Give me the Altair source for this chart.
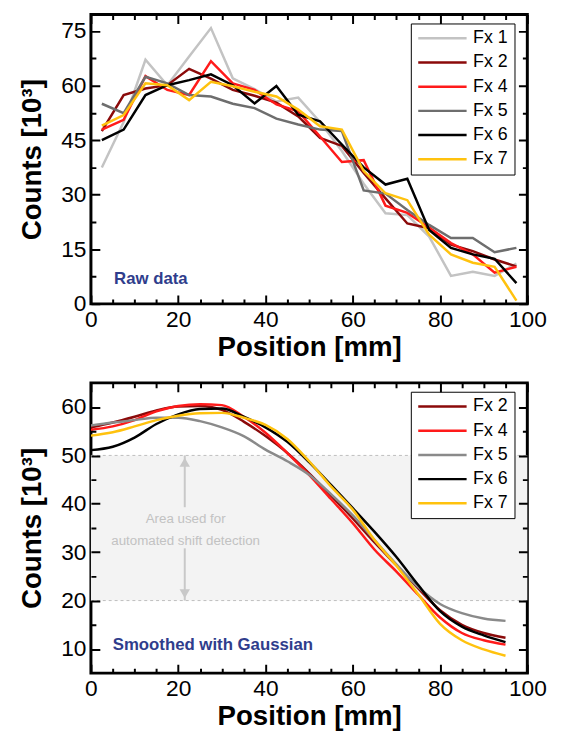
import altair as alt
import pandas as pd

# ---------------- data ----------------
raw_pos = [2.5, 7.5, 12.5, 17.5, 22.5, 27.5, 32.5, 37.5, 42.5, 47.5,
           52.5, 57.5, 62.5, 67.5, 72.5, 77.5, 82.5, 87.5, 92.5, 97.5]
raw_fx1 = [37.5, 50.0, 67.1, 60.1, 68.0, 75.8, 62.0, 59.0, 55.6, 56.7,
           50.0, 42.0, 33.0, 24.9, 24.4, 18.5, 7.7, 8.8, 7.7, 11.1]
raw_fx2 = [47.5, 57.4, 59.2, 60.1, 64.6, 61.9, 58.8, 57.2, 55.3, 51.5,
           45.6, 43.4, 36.0, 29.0, 22.1, 20.8, 16.3, 14.5, 12.2, 10.3]
raw_fx4 = [47.9, 50.6, 62.6, 58.8, 57.4, 66.7, 60.6, 58.8, 54.8, 52.9,
           46.0, 39.0, 39.5, 27.0, 25.0, 21.0, 16.7, 13.6, 8.6, 10.2]
raw_fx5 = [55.0, 52.4, 62.4, 60.6, 57.4, 57.0, 55.0, 53.8, 50.9, 49.3,
           47.9, 47.5, 31.2, 30.3, 25.8, 21.7, 18.1, 18.1, 14.2, 15.4]
raw_fx6 = [45.0, 47.9, 57.4, 60.1, 61.5, 63.1, 60.1, 55.1, 59.9, 52.0,
           50.2, 43.8, 37.5, 32.8, 34.4, 20.3, 15.4, 13.6, 12.4, 5.7]
raw_fx7 = [49.0, 51.9, 60.6, 60.1, 56.0, 61.0, 59.8, 58.3, 57.0, 53.4,
           48.8, 47.9, 36.5, 30.4, 28.5, 19.0, 13.6, 11.3, 10.2, 0.9]

smooth_pos = [0, 5, 10, 15, 20, 25, 30, 35, 40, 45,
              50, 55, 60, 65, 70, 75, 80, 85, 90, 95]
sm_fx2 = [55.8, 56.8, 58.0, 59.3, 60.1, 60.2, 59.4, 57.0, 54.0, 50.5,
          46.3, 41.7, 37.0, 32.0, 27.3, 22.5, 18.0, 15.0, 13.3, 12.3]
sm_fx4 = [55.3, 56.0, 57.3, 59.1, 60.2, 60.6, 60.4, 58.0, 54.7, 50.5,
          46.0, 41.0, 36.0, 30.5, 26.0, 21.2, 16.5, 13.3, 11.8, 10.9]
sm_fx5 = [56.2, 56.8, 57.3, 57.8, 57.8, 57.1, 55.8, 54.0, 51.2, 48.8,
          46.0, 42.0, 37.6, 32.5, 27.5, 22.8, 19.3, 17.4, 16.3, 15.8]
sm_fx6 = [51.1, 51.8, 53.7, 56.5, 58.5, 59.6, 59.7, 58.0, 55.8, 52.8,
          48.6, 43.9, 39.1, 34.2, 29.0, 23.2, 17.8, 14.6, 12.8, 11.4]
sm_fx7 = [54.1, 54.8, 56.0, 57.3, 58.2, 58.7, 58.8, 57.8, 56.3, 53.4,
          48.8, 43.6, 38.8, 32.5, 27.2, 21.3, 15.2, 11.8, 9.9, 8.6]

raw_names = ["Fx 1", "Fx 2", "Fx 4", "Fx 5", "Fx 6", "Fx 7"]
raw_colors = ["#c3c3c3", "#8b0a0a", "#ff1a1a", "#6e6e6e", "#000000", "#ffc20e"]
sm_names = ["Fx 2", "Fx 4", "Fx 5", "Fx 6", "Fx 7"]
sm_colors = ["#8b0a0a", "#ff1a1a", "#8a8a8a", "#000000", "#ffc20e"]

x_major = [0, 20, 40, 60, 80, 100]
x_minor = [5, 10, 15, 25, 30, 35, 45, 50, 55, 65, 70, 75, 85, 90, 95]
raw_y_major = [0, 15, 30, 45, 60, 75]
raw_y_minor = [7.5, 22.5, 37.5, 52.5, 67.5]
sm_y_major = [10, 20, 30, 40, 50, 60]
sm_y_minor = [15, 25, 35, 45, 55]

band_low, band_high = [20], [50]
arrow_x = [21.5]
arrow_top = [50, 39.3]       # upper shaft: from, to
arrow_bot = [30.8, 20]       # lower shaft: from, to
area_text = ["Area used for", "automated shift detection"]
area_text_y = [36.8, 32.3]
area_text_x = [21.7, 21.7]

X_DOM = [0, 100]
Y_DOM_TOP = [0, 79.5]
Y_DOM_BOT = [5, 65]

FONT = "Liberation Sans"
W = 442
H_TOP = 293
H_BOT = 294
MAJ, MIN = 9, 5   # inward tick lengths in pixels

raw_df = pd.DataFrame({
    "pos": raw_pos * 6,
    "val": raw_fx1 + raw_fx2 + raw_fx4 + raw_fx5 + raw_fx6 + raw_fx7,
    "series": sum([[n] * len(raw_pos) for n in raw_names], []),
})
sm_df = pd.DataFrame({
    "pos": smooth_pos * 5,
    "val": sm_fx2 + sm_fx4 + sm_fx5 + sm_fx6 + sm_fx7,
    "series": sum([[n] * len(smooth_pos) for n in sm_names], []),
})


def edge_dash(length, tick):
    # grid line drawn only as short segments at both frame edges -> inward ticks
    return [tick, length - 2 * tick, tick, 0]


def make_axes(y_major, y_minor, y_step, height):
    x_test = "datum.value % 20 === 0"
    y_test = "datum.value % " + str(y_step) + " === 0"
    ax_x = alt.Axis(
        orient="bottom", values=sorted(x_major + x_minor), ticks=False, tickSize=0,
        domain=False, grid=True, gridColor="black", gridWidth=2, gridOpacity=1,
        gridDash={"condition": {"test": x_test, "value": edge_dash(height, MAJ)},
                  "value": edge_dash(height, MIN)},
        labelExpr=x_test + " ? datum.label : ''",
        labelPadding=5, labelFlush=False, labelOverlap=False, zindex=1,
        title="Position [mm]", titlePadding=2)
    ax_y = alt.Axis(
        orient="left", values=sorted(y_major + y_minor), ticks=False, tickSize=0,
        domain=False, grid=True, gridColor="black", gridWidth=2, gridOpacity=1,
        gridDash={"condition": {"test": y_test, "value": edge_dash(W, MAJ)},
                  "value": edge_dash(W, MIN)},
        labelExpr=y_test + " ? datum.label : ''",
        labelPadding=5, labelOverlap=False, zindex=1,
        title="Counts [10³]", titlePadding=14)
    return ax_x, ax_y


def legend():
    return alt.Legend(
        title=None, orient="none", legendX=324, legendY=9,
        symbolType="stroke", symbolSize=2400, symbolStrokeWidth=2.5,
        clipHeight=18, rowPadding=6.5, labelFontSize=18, labelFont=FONT,
        labelColor="black", labelOffset=5, padding=6,
        strokeColor="black", fillColor="white",
    )


# ---------------- top chart ----------------
xs_top = alt.Scale(domain=X_DOM, nice=False, zero=False)
ys_top = alt.Scale(domain=Y_DOM_TOP, nice=False, zero=False)
axx_t, axy_t = make_axes(raw_y_major, raw_y_minor, 15, H_TOP)

top_lines = alt.Chart(raw_df).mark_line(strokeWidth=2.5, clip=True).encode(
    x=alt.X("pos:Q", scale=xs_top, axis=axx_t),
    y=alt.Y("val:Q", scale=ys_top, axis=axy_t),
    color=alt.Color("series:N", scale=alt.Scale(domain=raw_names, range=raw_colors),
                    legend=legend()),
)

top_label_df = pd.DataFrame({"pos": [5.3], "val": [6.8], "txt": ["Raw data"]})
top_label = alt.Chart(top_label_df).mark_text(
    align="left", baseline="middle", font=FONT, fontSize=17,
    fontWeight="bold", color="#2f3d8c").encode(
    x=alt.X("pos:Q", scale=xs_top, axis=axx_t),
    y=alt.Y("val:Q", scale=ys_top, axis=axy_t),
    text="txt:N")

top = alt.layer(top_lines, top_label).properties(width=W, height=H_TOP)

# ---------------- bottom chart ----------------
xs_bot = alt.Scale(domain=X_DOM, nice=False, zero=False)
ys_bot = alt.Scale(domain=Y_DOM_BOT, nice=False, zero=False)
axx_b, axy_b = make_axes(sm_y_major, sm_y_minor, 10, H_BOT)

band_df = pd.DataFrame({"x0": [0], "x1": [100], "lo": band_low, "hi": band_high})
band = alt.Chart(band_df).mark_rect(color="#f3f3f3").encode(
    x=alt.X("x0:Q", scale=xs_bot, axis=axx_b), x2="x1:Q",
    y=alt.Y("lo:Q", scale=ys_bot, axis=axy_b), y2="hi:Q")

lim_df = pd.DataFrame({"x0": [0, 0], "x1": [100, 100], "y": band_low + band_high})
lims = alt.Chart(lim_df).mark_rule(color="#bdbdbd", strokeWidth=1, strokeDash=[3, 3]).encode(
    x=alt.X("x0:Q", scale=xs_bot, axis=axx_b), x2="x1:Q",
    y=alt.Y("y:Q", scale=ys_bot, axis=axy_b))

shaft_df = pd.DataFrame({"x": arrow_x * 2, "y0": [arrow_top[0], arrow_bot[0]],
                         "y1": [arrow_top[1], arrow_bot[1]]})
shafts = alt.Chart(shaft_df).mark_rule(color="#c8c8c8", strokeWidth=2).encode(
    x=alt.X("x:Q", scale=xs_bot, axis=axx_b),
    y=alt.Y("y0:Q", scale=ys_bot, axis=axy_b), y2="y1:Q")

heads_df = pd.DataFrame({"x": arrow_x * 2, "y": [48.6, 21.4],
                         "shape": ["triangle-up", "triangle-down"]})
heads = alt.Chart(heads_df).mark_point(filled=True, color="#c8c8c8", size=110, opacity=1).encode(
    x=alt.X("x:Q", scale=xs_bot, axis=axx_b),
    y=alt.Y("y:Q", scale=ys_bot, axis=axy_b),
    shape=alt.Shape("shape:N", scale=None, legend=None))

area_df = pd.DataFrame({"x": area_text_x, "y": area_text_y, "t": area_text})
area_lbl = alt.Chart(area_df).mark_text(font=FONT, fontSize=13.5, color="#c2c2c2",
                                        align="center", baseline="middle").encode(
    x=alt.X("x:Q", scale=xs_bot, axis=axx_b),
    y=alt.Y("y:Q", scale=ys_bot, axis=axy_b), text="t:N")

bot_lines = alt.Chart(sm_df).mark_line(strokeWidth=2.5, clip=True, interpolate="monotone").encode(
    x=alt.X("pos:Q", scale=xs_bot, axis=axx_b),
    y=alt.Y("val:Q", scale=ys_bot, axis=axy_b),
    color=alt.Color("series:N", scale=alt.Scale(domain=sm_names, range=sm_colors),
                    legend=legend()),
)

bot_label_df = pd.DataFrame({"pos": [5.0], "val": [10.8], "txt": ["Smoothed with Gaussian"]})
bot_label = alt.Chart(bot_label_df).mark_text(
    align="left", baseline="middle", font=FONT, fontSize=17,
    fontWeight="bold", color="#2f3d8c").encode(
    x=alt.X("pos:Q", scale=xs_bot, axis=axx_b),
    y=alt.Y("val:Q", scale=ys_bot, axis=axy_b),
    text="txt:N")

bottom = alt.layer(
    band, lims, shafts, heads, area_lbl, bot_lines, bot_label,
).properties(width=W, height=H_BOT)

chart = alt.vconcat(top, bottom, spacing=18).resolve_scale(color="independent").resolve_legend(
    color="independent"
).properties(
    padding={"left": 9, "top": 0, "right": 5, "bottom": 0}
).configure_view(
    stroke="black", strokeWidth=3
).configure_axis(
    labelFont=FONT, labelFontSize=23, labelColor="black",
    titleFont=FONT, titleFontSize=28, titleFontWeight="bold", titleColor="black",
)

chart.save("out.html", embed_options={"renderer": "svg", "actions": False})
